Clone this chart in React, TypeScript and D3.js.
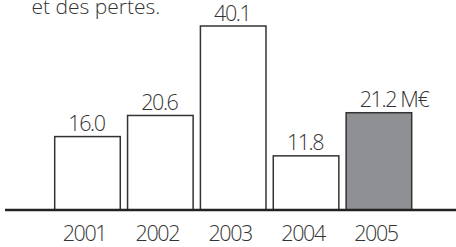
import React, { useEffect, useRef } from "react";
import * as d3 from "d3";

const years = ["2001", "2002", "2003", "2004", "2005"];
const values = [16.0, 20.6, 40.1, 11.8, 21.2];
const highlight = ["2005"];
const unit = " M€";
const caption = "et des pertes.";

const App = () => {
  const svgRef = useRef<SVGSVGElement>(null);

  useEffect(() => {
    const svg = d3.select(svgRef.current);
    svg.selectAll("*").remove();

    const width = 456,
      height = 247;
    const font = "'Open Sans', Lato, sans-serif";
    const data = years.map((y, i) => ({ year: y, value: values[i] }));

    const x = d3.scaleBand().domain(years).range([54.7, 411.7]).paddingInner(0.1);
    const y = d3.scaleLinear().domain([0, 40.1]).range([210, 26]);

    // caption, clipped at the top like the source
    svg
      .append("text")
      .attr("x", 31.5)
      .attr("y", 13.5)
      .attr("font-family", font)
      .attr("font-weight", 300)
      .attr("font-size", 21)
      .attr("letter-spacing", 0)
      .attr("fill", "#333")
      .text(caption);

    // bars
    svg
      .selectAll(".bar")
      .data(data)
      .enter()
      .append("rect")
      .attr("class", "bar")
      .attr("x", (d) => x(d.year)!)
      .attr("y", (d) => y(d.value))
      .attr("width", x.bandwidth())
      .attr("height", (d) => y(0) - y(d.value))
      .attr("fill", (d) => (highlight.includes(d.year) ? "#8f9093" : "#fff"))
      .attr("stroke", "#333")
      .attr("stroke-width", 1.5);

    // value labels
    const labels = svg
      .selectAll(".val")
      .data(data)
      .enter()
      .append("text")
      .attr("class", "val")
      .attr("y", (d) => y(d.value) - 5.5)
      .attr("font-family", font)
      .attr("font-weight", 300)
      .attr("font-size", 21.5)
      .attr("letter-spacing", -1.4)
      .attr("fill", "#333")
      .attr("text-anchor", "start")
      .text((d) => d.value.toFixed(1));

    // center the number only, unit hangs to the right
    labels.each(function (d) {
      const t = this as SVGTextElement;
      const w = t.getComputedTextLength();
      d3.select(t).attr("x", x(d.year)! + x.bandwidth() / 2 - w / 2 - 1);
      if (highlight.includes(d.year)) d3.select(t).append("tspan").text(unit);
    });

    // baseline
    svg
      .append("line")
      .attr("x1", 5)
      .attr("x2", width)
      .attr("y1", y(0))
      .attr("y2", y(0))
      .attr("stroke", "#222")
      .attr("stroke-width", 2.5);

    // year labels
    svg
      .selectAll(".year")
      .data(years)
      .enter()
      .append("text")
      .attr("class", "year")
      .attr("x", (d) => x(d)! + x.bandwidth() / 2 - 3)
      .attr("y", 241)
      .attr("font-family", font)
      .attr("font-weight", 300)
      .attr("font-size", 21.5)
      .attr("letter-spacing", -1.4)
      .attr("fill", "#333")
      .attr("text-anchor", "middle")
      .text((d) => d);

    svg.attr("width", width).attr("height", height);
  }, []);

  return (
    <div style={{ position: "absolute", left: 0, top: 0, background: "#fff" }}>
      <svg ref={svgRef} style={{ display: "block" }}></svg>
    </div>
  );
};

export default App;
